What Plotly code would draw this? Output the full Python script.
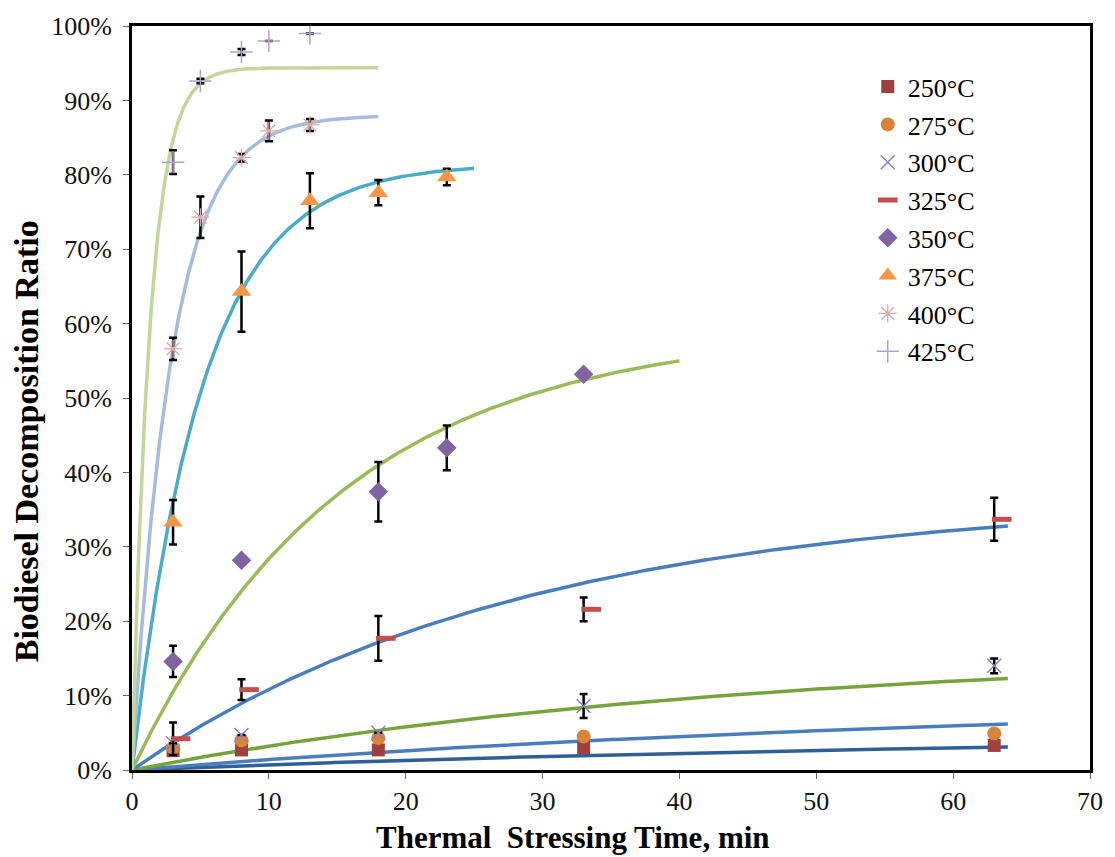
import numpy as np
import plotly.graph_objects as go

# Measured decomposition ratio (fraction) vs. thermal stressing time (min)
temps = ["250°C", "275°C", "300°C", "325°C", "350°C", "375°C", "400°C", "425°C"]

t_250 = [3, 8, 18, 33, 63]
y_250 = [0.026, 0.027, 0.027, 0.030, 0.033]

t_275 = [3, 8, 18, 33, 63]
y_275 = [0.030, 0.040, 0.043, 0.045, 0.049]

t_300 = [3, 8, 18, 33, 63]
y_300 = [0.036, 0.047, 0.050, 0.086, 0.140]
e_300 = [0.000, 0.000, 0.000, 0.016, 0.010]

t_325 = [3, 8, 18, 33, 63]
y_325 = [0.042, 0.108, 0.177, 0.216, 0.337]
e_325 = [0.022, 0.014, 0.030, 0.016, 0.029]

t_350 = [3, 8, 18, 23, 33]
y_350 = [0.146, 0.282, 0.374, 0.433, 0.532]
e_350 = [0.021, 0.0, 0.040, 0.030, 0.0]

t_375 = [3, 8, 13, 18, 23]
y_375 = [0.333, 0.643, 0.765, 0.776, 0.797]
e_375 = [0.030, 0.054, 0.037, 0.017, 0.011]

t_400 = [3, 5, 8, 10, 13]
y_400 = [0.566, 0.743, 0.823, 0.859, 0.867]
e_400 = [0.015, 0.028, 0.005, 0.014, 0.008]

t_425 = [3, 5, 8, 10, 13]
y_425 = [0.817, 0.926, 0.965, 0.980, 0.990]
e_425 = [0.016, 0.003, 0.004, 0.0, 0.0]

# First-order fit y = A (1 - exp(-k t)): plateau A, rate k, and end of fitted range
fit_A = [0.050, 0.100, 0.163, 0.367, 0.594, 0.815, 0.880, 0.944]
fit_k = [0.015, 0.015, 0.022, 0.035, 0.065, 0.195, 0.345, 0.76]
fit_end = [64, 64, 64, 64, 40, 25, 18, 18]
fit_colors = ["#2F5F95", "#4A7EBB", "#77A33D", "#4A7EBB", "#9BBB59", "#4BACC6", "#A5BCDD", "#C3D69B"]

x_title = "Thermal&nbsp; Stressing Time, min"
y_title = "Biodiesel Decomposition Ratio"

fig = go.Figure()

# Fitted curves first so the markers sit on top
for A, k, tend, col in zip(fit_A, fit_k, fit_end, fit_colors):
    tt = np.linspace(0, tend, 300)
    fig.add_trace(go.Scatter(x=tt, y=A * (1 - np.exp(-k * tt)), mode="lines",
                             line=dict(color=col, width=3.5), showlegend=False,
                             hoverinfo="skip"))

def err(vals):
    return dict(type="data", array=vals, visible=True, color="black", thickness=2.5, width=4)

series = [
    (t_250, y_250, None, dict(symbol="square", size=13, color="#A0403E")),
    (t_275, y_275, None, dict(symbol="circle", size=14, color="#D9843A")),
    (t_300, y_300, e_300, dict(symbol="x-thin-open", size=14, color="#8E81B5",
                               line=dict(color="#8E81B5", width=1.5))),
    (t_325, y_325, e_325, None),
    (t_350, y_350, e_350, dict(symbol="diamond", size=15, color="#8064A2")),
    (t_375, y_375, e_375, dict(symbol="triangle-up", size=17, color="#F79646")),
    (t_400, y_400, e_400, dict(symbol="asterisk-open", size=15, color="#DCA9A8",
                               line=dict(color="#DCA9A8", width=1.3))),
    (t_425, y_425, e_425, dict(symbol="cross-thin-open", size=16, color="#B3A2C7",
                               line=dict(color="#B3A2C7", width=1.5))),
]

for i, (tx, ty, te, mk) in enumerate(series):
    name = temps[i]
    if name == "325°C":
        # error bars at the sampling times, dash marker drawn just to the right
        fig.add_trace(go.Scatter(x=tx, y=ty, mode="markers", error_y=err(te),
                                 marker=dict(size=1, color="rgba(0,0,0,0)"),
                                 showlegend=False, hoverinfo="skip"))
        fig.add_trace(go.Scatter(x=[v + 0.55 for v in tx], y=ty, mode="markers", name=name,
                                 legendgroup=name,
                                 marker=dict(symbol="line-ew", size=14, color="#C0504D",
                                             line=dict(color="#C0504D", width=5))))
        continue
    fig.add_trace(go.Scatter(x=tx, y=ty, mode="markers", name=name, legendgroup=name,
                             error_y=err(te) if te is not None else None,
                             marker=mk))

serif = "Liberation Serif"

fig.update_layout(
    width=1115, height=857,
    margin=dict(l=132, r=15, t=24, b=87),
    plot_bgcolor="white", paper_bgcolor="white",
    showlegend=True,
    legend=dict(x=0.768, y=0.95, xanchor="left", yanchor="top",
                font=dict(family=serif, size=26, color="black"),
                bgcolor="rgba(0,0,0,0)", tracegroupgap=1, itemsizing="trace"),
    font=dict(family=serif, color="black"),
    annotations=[
        dict(text=f"<b>{x_title}</b>", xref="paper", yref="paper", x=0.46, y=-0.091,
             xanchor="center", yanchor="middle", showarrow=False,
             font=dict(family=serif, size=31, color="black")),
        dict(text=f"<b>{y_title}</b>", xref="paper", yref="paper", x=-0.1105, y=0.442,
             xanchor="center", yanchor="middle", showarrow=False, textangle=-90,
             font=dict(family=serif, size=34, color="black")),
    ],
)

fig.update_xaxes(range=[0, 70], dtick=10, tickmode="linear", showgrid=False, zeroline=False,
                 showline=True, linecolor="black", linewidth=3, mirror=True,
                 ticks="outside", ticklen=6, tickcolor="#666", tickwidth=1,
                 tickfont=dict(family=serif, size=26, color="#111"))
fig.update_yaxes(range=[0, 1], dtick=0.1, tickformat=".0%", showgrid=False, zeroline=False,
                 showline=True, linecolor="black", linewidth=3, mirror=True,
                 ticks="outside", ticklen=6, tickcolor="#666", tickwidth=1,
                 ticklabelstandoff=6,
                 tickfont=dict(family=serif, size=26, color="#111"))

fig.write_html("out.html")
